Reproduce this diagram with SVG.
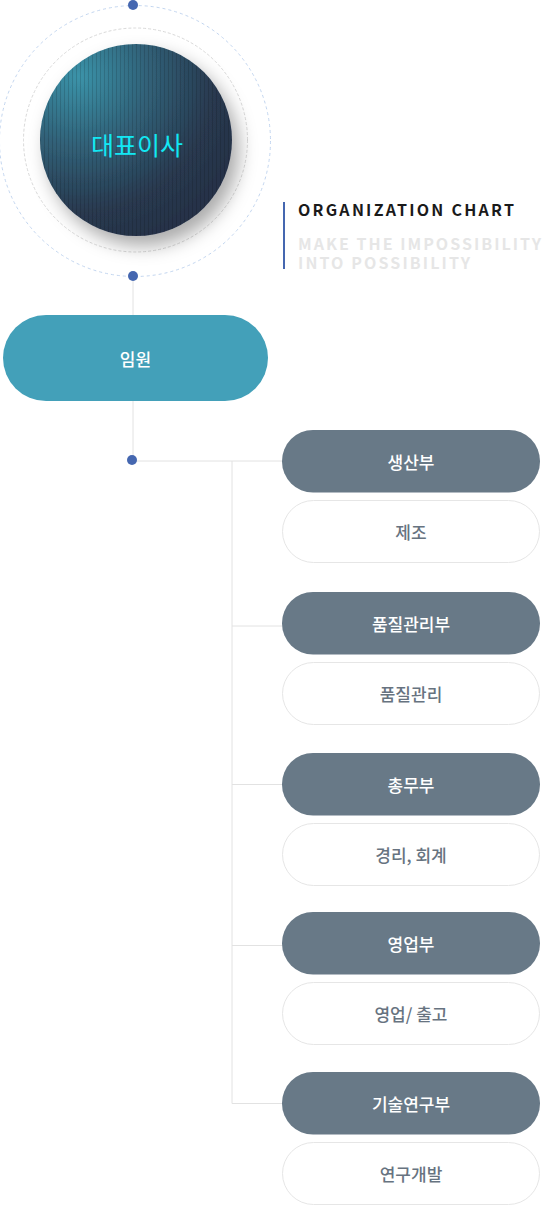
<svg xmlns="http://www.w3.org/2000/svg" width="543" height="1205" viewBox="0 0 543 1205">
<defs>
<style>
.conn{stroke:#e2e2e2;stroke-width:1;fill:none}
.dot{fill:#4567b0}
.dark{fill:#687987}
.light{fill:#ffffff;stroke:#e6e6e6;stroke-width:1}
.tw{font-family:"Noto Sans CJK KR","Noto Sans",sans-serif;font-size:17px;font-weight:500;fill:#ffffff;text-anchor:middle}
.tg{font-family:"Noto Sans CJK KR","Noto Sans",sans-serif;font-size:17px;font-weight:500;fill:#677380;text-anchor:middle}
.hd{font-family:"Noto Sans CJK KR","Noto Sans",sans-serif;font-weight:700;font-size:16px}
</style>
<radialGradient id="cg" cx="0.2" cy="0.17" r="1.0">
<stop offset="0" stop-color="#3b93a9"/>
<stop offset="0.35" stop-color="#31637a"/>
<stop offset="0.7" stop-color="#293a50"/>
<stop offset="1" stop-color="#262f45"/>
</radialGradient>
<pattern id="stripes" width="4" height="10" patternUnits="userSpaceOnUse">
<rect x="0" y="0" width="1" height="10" fill="#000000" fill-opacity="0.14"/>
</pattern>
<filter id="sh" x="-30%" y="-30%" width="170%" height="170%">
<feDropShadow dx="7" dy="10" stdDeviation="9" flood-color="#000000" flood-opacity="0.33"/>
</filter>
</defs>

<g id="connectors">
<line class="conn" x1="133" y1="276" x2="133" y2="315"/>
<line class="conn" x1="133" y1="401" x2="133" y2="460"/>
<line class="conn" x1="133" y1="461" x2="283" y2="461"/>
<line class="conn" x1="232" y1="461" x2="232" y2="1103.5"/>
<line class="conn" x1="232" y1="626" x2="283" y2="626"/>
<line class="conn" x1="232" y1="784.5" x2="283" y2="784.5"/>
<line class="conn" x1="232" y1="945.5" x2="283" y2="945.5"/>
<line class="conn" x1="232" y1="1103.5" x2="283" y2="1103.5"/>
</g>

<g id="ceo">
<circle cx="135" cy="141" r="135.5" fill="none" stroke="#c3d6f0" stroke-width="1" stroke-dasharray="3 3"/>
<circle cx="135.5" cy="140" r="112" fill="none" stroke="#d9d9d9" stroke-width="1" stroke-dasharray="3 2"/>
<circle cx="136" cy="140" r="96" fill="url(#cg)" filter="url(#sh)"/>
<circle cx="136" cy="140" r="96" fill="url(#stripes)"/>
<text x="137" y="155" font-family="Noto Sans CJK KR, Noto Sans, sans-serif" font-size="25" font-weight="400" fill="#12e8f4" text-anchor="middle">대표이사</text>
<circle class="dot" cx="133" cy="5" r="5"/>
<circle class="dot" cx="133" cy="276" r="5"/>
</g>

<g id="heading">
<rect x="283" y="202" width="2" height="67" fill="#4567b0"/>
<text class="hd" x="298" y="216" fill="#1a1a1a" textLength="216" lengthAdjust="spacing">ORGANIZATION CHART</text>
<text class="hd" x="298" y="249.5" fill="#e6e6e6" textLength="243" lengthAdjust="spacing">MAKE THE IMPOSSIBILITY</text>
<text class="hd" x="298" y="269" fill="#e6e6e6" textLength="172" lengthAdjust="spacing">INTO POSSIBILITY</text>
</g>

<g id="executive">
<rect x="3" y="315" width="265" height="86" rx="43" fill="#43a0b9"/>
<text class="tw" x="135.5" y="366" font-size="19">임원</text>
</g>
<circle id="branch-dot" class="dot" cx="132" cy="460" r="5"/>

<g id="dept-production">
<rect class="dark" x="282" y="430" width="258" height="62.5" rx="31"/>
<text class="tw" x="411" y="469">생산부</text>
<rect class="light" x="282.5" y="500.5" width="257" height="62" rx="31"/>
<text class="tg" x="411" y="539">제조</text>
</g>

<g id="dept-quality">
<rect class="dark" x="282" y="592" width="258" height="62.5" rx="31"/>
<text class="tw" x="411" y="631">품질관리부</text>
<rect class="light" x="282.5" y="662.5" width="257" height="62" rx="31"/>
<text class="tg" x="411" y="701">품질관리</text>
</g>

<g id="dept-general">
<rect class="dark" x="282" y="753" width="258" height="62.5" rx="31"/>
<text class="tw" x="411" y="792">총무부</text>
<rect class="light" x="282.5" y="823.5" width="257" height="62" rx="31"/>
<text class="tg" x="411" y="862">경리, 회계</text>
</g>

<g id="dept-sales">
<rect class="dark" x="282" y="912" width="258" height="62.5" rx="31"/>
<text class="tw" x="411" y="951">영업부</text>
<rect class="light" x="282.5" y="982.5" width="257" height="62" rx="31"/>
<text class="tg" x="411" y="1021">영업/ 출고</text>
</g>

<g id="dept-rnd">
<rect class="dark" x="282" y="1072" width="258" height="62.5" rx="31"/>
<text class="tw" x="411" y="1111">기술연구부</text>
<rect class="light" x="282.5" y="1142.5" width="257" height="62" rx="31"/>
<text class="tg" x="411" y="1181">연구개발</text>
</g>
</svg>
